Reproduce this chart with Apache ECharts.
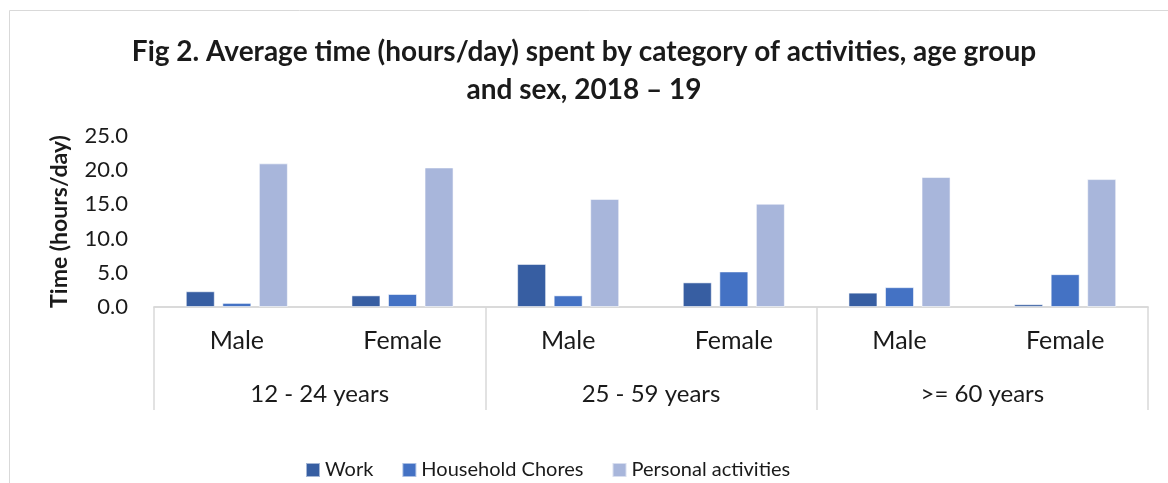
<!DOCTYPE html>
<html>
<head>
<meta charset="utf-8">
<script src="https://cdn.jsdelivr.net/npm/echarts@6/dist/echarts.min.js"></script>
<style>
  html, body { margin: 0; padding: 0; background: #fff; }
  #chart { width: 1168px; height: 483px; }
</style>
</head>
<body>
<div id="chart"></div>
<script>
// data
const sexLabels = ['Male', 'Female', 'Male', 'Female', 'Male', 'Female'];
const ageGroups = ['12 - 24 years', '25 - 59 years', '>= 60 years'];
const work = [2.3, 1.7, 6.3, 3.6, 2.1, 0.4];
const household = [0.6, 1.9, 1.7, 5.2, 2.9, 4.8];
const personal = [21.0, 20.4, 15.8, 15.1, 19.0, 18.7];
const yTicks = [0, 5, 10, 15, 20, 25];

const font = 'Lato, "Open Sans", sans-serif';
const txt = '#1a1a1a';
const gray = '#d9d9d9';

var chart = echarts.init(document.getElementById('chart'));

const option = {
    animation: false,
    textStyle: { fontFamily: font },
    title: {
        text: 'Fig 2. Average time (hours/day) spent by category of activities, age group\nand sex, 2018 – 19',
        left: 'center',
        top: 28,
        textStyle: { fontSize: 28, fontWeight: 'bold', color: txt, lineHeight: 38, fontFamily: font, align: 'center' }
    },
    graphic: [{
        type: 'rect',
        shape: { x: 9.5, y: 10.5, width: 1300, height: 600 },
        style: { fill: 'none', stroke: gray, lineWidth: 1 },
        silent: true
    }],
    legend: {
        data: ['Work', 'Household Chores', 'Personal activities'],
        left: 300,
        top: 455,
        icon: 'rect',
        itemWidth: 14,
        itemHeight: 14,
        itemGap: 28,
        textStyle: { fontSize: 20, color: txt, fontFamily: font }
    },
    grid: { left: 154, right: 20, top: 136, bottom: 176 },
    xAxis: [
        {
            type: 'category',
            data: sexLabels,
            position: 'bottom',
            axisLine: { show: true, lineStyle: { color: gray, width: 1.5 } },
            axisTick: { show: false },
            axisLabel: { interval: 0, margin: 21, fontSize: 25, color: txt }
        },
        {
            type: 'category',
            data: ageGroups,
            position: 'bottom',
            offset: 0,
            axisLine: { show: true, lineStyle: { color: gray, width: 1.5 } },
            axisTick: { show: true, interval: 0, length: 103, lineStyle: { color: gray, width: 1.5 } },
            axisLabel: { interval: 0, margin: 75, fontSize: 24, color: txt }
        }
    ],
    yAxis: {
        type: 'value',
        min: yTicks[0],
        max: yTicks[yTicks.length - 1],
        interval: 5,
        name: 'Time (hours/day)',
        nameLocation: 'middle',
        nameGap: 83,
        nameTextStyle: { fontSize: 23, fontWeight: 'bold', color: txt },
        axisLine: { show: false },
        axisTick: { show: false },
        splitLine: { show: false },
        axisLabel: {
            fontSize: 22,
            color: txt,
            margin: 26,
            formatter: function (v) { return v.toFixed(1); }
        }
    },
    series: [
        {
            name: 'Work',
            type: 'bar',
            data: work,
            barWidth: 29,
            barGap: '26%',
            itemStyle: { color: '#375ea2', borderColor: 'rgba(255,255,255,0.55)', borderWidth: 1 }
        },
        {
            name: 'Household Chores',
            type: 'bar',
            data: household,
            barWidth: 29,
            barGap: '26%',
            itemStyle: { color: '#4472c4', borderColor: 'rgba(255,255,255,0.55)', borderWidth: 1 }
        },
        {
            name: 'Personal activities',
            type: 'bar',
            data: personal,
            barWidth: 29,
            barGap: '26%',
            itemStyle: { color: '#a8b6db', borderColor: 'rgba(255,255,255,0.55)', borderWidth: 1 }
        }
    ]
};

chart.setOption(option);
</script>
</body>
</html>
